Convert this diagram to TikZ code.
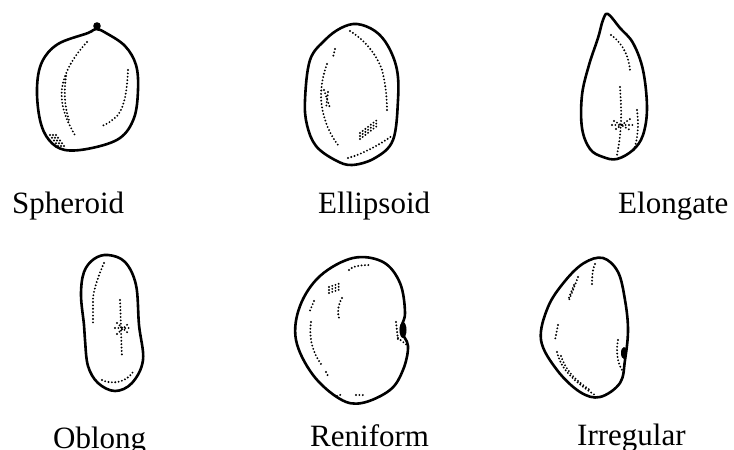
\documentclass[tikz,border=0pt]{standalone}
\usepackage{fontspec}
\setmainfont{Liberation Serif}
\begin{document}
\begin{tikzpicture}[x=1pt,y=-1pt,
  outline/.style={line width=2.6pt, line join=round},
  dots/.style={line width=2.1pt, line cap=round, dash pattern=on 0pt off 3.4pt},
  caption/.style={anchor=base west, inner sep=0pt, font=\fontsize{31}{31}\selectfont}]
\useasboundingbox (0,0) rectangle (734,450);

% ---------- Spheroid ----------
\draw[outline] plot[smooth cycle, tension=0.6] coordinates {(96,29) (106,33) (125,46) (136,65) (138,90) (134,118) (120,138) (92,148) (65,150) (49,140) (40,120) (37,88) (42,62) (58,44) (88,33)};
\fill (97,26) circle (3.8);
\draw[dots] (87,42) .. controls (75,55) and (65,70) .. (62,88) .. controls (60,105) and (66,120) .. (76,137);
\draw[dots] (66,76) .. controls (64,90) and (64,105) .. (69,120);
\draw[dots] (128,70) .. controls (127,90) and (125,105) .. (118,115) .. controls (112,121) and (107,124) .. (102,126);
\foreach \dx in {0,3,6} \draw[dots] (50+\dx,135) -- (58+\dx,146);
\node[caption] (spheroid) at (12,213) {Spheroid};

% ---------- Ellipsoid ----------
\draw[outline] plot[smooth cycle, tension=0.6] coordinates {(357,24) (341,28) (325,40) (310,60) (305,100) (307,125) (316,146) (335,160) (352,165) (375,158) (393,140) (398,100) (397,70) (388,46) (375,31)};
\draw[dots] (335,49) -- (333,57);
\draw[dots] (327,64) .. controls (323,75) and (321,85) .. (321,98) .. controls (322,115) and (328,132) .. (338,145);
\draw[dots] (324,90) -- (330,108);
\draw[dots] (328,92) -- (326,108);
\draw[dots] (350,31) .. controls (360,37) and (375,50) .. (382,70) .. controls (386,85) and (387,100) .. (387,112);
\foreach \dy in {0,3,6} \draw[dots] (360,133+\dy) -- (377,120+\dy);
\draw[dots] (348,158) .. controls (360,155) and (380,145) .. (393,135);
\node[caption] (ellipsoid) at (318,213) {Ellipsoid};

% ---------- Elongate ----------
\draw[outline] plot[smooth cycle, tension=0.6] coordinates {(608,14) (620,28) (633,43) (643,70) (647,108) (643,135) (633,150) (617,159) (603,157) (590,149) (582,128) (582,95) (589,65) (598,38) (603,20)};
\draw[dots] (611,35) .. controls (618,40) and (628,50) .. (630,70);
\draw[dots] (620,87) .. controls (621,105) and (623,125) .. (617,155);
\draw[dots] (612,125) -- (633,125);
\draw[dots] (614,121) -- (630,130);
\draw[dots] (616,129) -- (630,119);
\draw[dots] (637,110) .. controls (639,125) and (638,140) .. (633,152);
\node[caption] (elongate) at (618,213) {Elongate};

% ---------- Oblong ----------
\draw[outline] plot[smooth cycle, tension=0.6] coordinates {(108,255) (125,262) (136,285) (139,325) (143,360) (132,383) (115,391) (98,383) (88,366) (85,340) (84,325) (81,295) (84,272) (94,259)};
\draw[dots] (104,263) .. controls (100,272) and (95,285) .. (93,297) -- (93,325);
\draw[dots] (120,300) .. controls (121,320) and (121,340) .. (122,357);
\draw[dots] (115,328) -- (131,328);
\draw[dots] (117,323) -- (129,334);
\draw[dots] (117,334) -- (129,323);
\draw[dots] (102,380) .. controls (110,384) and (125,384) .. (133,372);
\node[caption] (oblong) at (53,448) {Oblong};

% ---------- Reniform ----------
\draw[outline] plot[smooth cycle, tension=0.6] coordinates {(353,258) (383,262) (400,283) (405,313) (401,330) (408,346) (403,370) (390,390) (362,403) (340,399) (313,375) (296,340) (300,306) (320,276)};
\draw[dots] (349,270) .. controls (352,266) and (362,265) .. (370,265);
\foreach \dy in {0,3,6} \draw[dots] (329,287+\dy) -- (341,283+\dy);
\draw[dots] (342,298) .. controls (338,305) and (337,312) .. (339,318);
\draw[dots] (314,301) -- (309,313);
\draw[dots] (311,322) .. controls (309,335) and (311,350) .. (321,364);
\draw[dots] (326,372) -- (328,376);
\fill (403,330) ellipse (3.5 and 8);
\draw[dots] (396,322) -- (398,340);
\draw[dots] (398,338) -- (408,346);
\draw[dots] (337,396) -- (343,394);
\draw[dots] (356,395) -- (366,395);
\node[caption] (reniform) at (310,446) {Reniform};

% ---------- Irregular ----------
\draw[outline] plot[smooth cycle, tension=0.6] coordinates {(603,258) (618,272) (625,300) (628,330) (625,360) (620,383) (600,397) (580,392) (557,370) (541,340) (548,307) (565,281) (584,263)};
\draw[dots] (595,264) .. controls (592,270) and (592,280) .. (592,287);
\draw[dots] (578,277) .. controls (575,285) and (572,293) .. (569,300);
\draw[dots] (574,285) -- (568,300);
\draw[dots] (558,325) -- (555,340);
\draw[dots] (557,352) .. controls (560,365) and (568,378) .. (595,395);
\draw[dots] (561,356) .. controls (565,368) and (572,378) .. (590,390);
\fill (624,353) ellipse (3 and 6);
\draw[dots] (618,340) .. controls (616,350) and (617,362) .. (622,370);
\node[caption] (irregular) at (577,445) {Irregular};
\end{tikzpicture}
\end{document}
